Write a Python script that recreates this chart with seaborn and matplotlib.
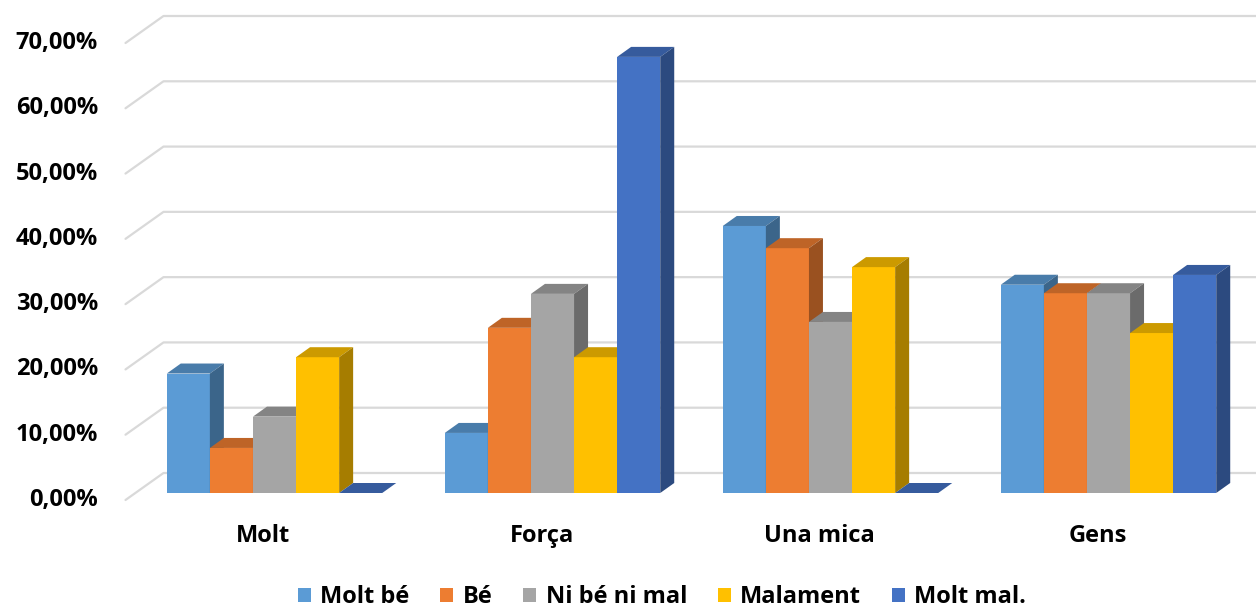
import numpy as np
import pandas as pd
import matplotlib
matplotlib.use('Agg')
import matplotlib.pyplot as plt
import seaborn as sns
from matplotlib.patches import Polygon
from matplotlib.colors import to_rgb

# Dades (percentatges)
categories = ['Molt', 'Força', 'Una mica', 'Gens']
respostes = ['Molt bé', 'Bé', 'Ni bé ni mal', 'Malament', 'Molt mal.']
molt_be = [18.3, 9.2, 40.9, 31.9]
be = [6.9, 25.3, 37.5, 30.6]
ni_be_ni_mal = [11.7, 30.5, 26.2, 30.6]
malament = [20.8, 20.8, 34.6, 24.5]
molt_mal = [0.0, 66.8, 0.0, 33.4]
yticks = [0, 10, 20, 30, 40, 50, 60, 70]

colors = ['#5B9BD5', '#ED7D31', '#A5A5A5', '#FFC000', '#4472C4']

series = [molt_be, be, ni_be_ni_mal, malament, molt_mal]
rows = []
for resp, vals in zip(respostes, series):
    for cat, v in zip(categories, vals):
        rows.append({'categoria': cat, 'resposta': resp, 'valor': v})
df = pd.DataFrame(rows)

sns.set_theme(style='white')
plt.rcParams['font.family'] = ['Open Sans', 'DejaVu Sans']
plt.rcParams['text.color'] = 'black'

fig = plt.figure(figsize=(12.56, 6.08), dpi=100)
ax = fig.add_axes([135.5 / 1256, 115 / 608, 1112 / 1256, 457 / 608])

sns.barplot(data=df, x='categoria', y='valor', hue='resposta', order=categories,
            hue_order=respostes, palette=colors, width=0.775, saturation=1,
            errorbar=None, linewidth=0, ax=ax)
ax.set_xlim(-0.5, 3.5)
ax.set_ylim(0, 70)

# pixels per unitat de dades
ppx = ax.bbox.width / 4
ppy = ax.bbox.height / 70

# efecte 3D de les barres
ddx, ddy = 14 / ppx, 10 / ppy
bars = sorted(list(ax.patches), key=lambda p: p.get_x())
for rank, p in enumerate(bars):
    x, w, h = p.get_x(), p.get_width(), p.get_height()
    c = np.array(to_rgb(p.get_facecolor()))
    p.set_zorder(3 + rank * 3)
    top = Polygon([(x, h), (x + w, h), (x + w + ddx, h + ddy), (x + ddx, h + ddy)],
                  closed=True, fc=c * 0.8, ec='none', zorder=4 + rank * 3)
    side = Polygon([(x + w, 0), (x + w + ddx, ddy), (x + w + ddx, h + ddy), (x + w, h)],
                   closed=True, fc=c * 0.65, ec='none', zorder=5 + rank * 3)
    ax.add_patch(top)
    ax.add_patch(side)

# graella al pla del fons
dxb, dyb = 28 / ppx, 20 / ppy
dxf, dyf = -10 / ppx, -7 / ppy
x_right = 3.5 + 8.5 / ppx
for v in yticks:
    ax.plot([-0.5 + dxf, -0.5 + dxb, x_right], [v + dyf, v + dyb, v + dyb],
            color='#d9d9d9', lw=1.6, clip_on=False, zorder=1)
    ax.text(-0.5 + (98 - 135.5) / ppx, v + dyf, f'{v:.2f}'.replace('.', ',') + '%',
            ha='right', va='center', fontsize=17, fontweight='bold', color='black',
            clip_on=False)

ax.set_yticks([])
ax.set_xticks([i - 11 / ppx for i in range(len(categories))])
ax.set_xticklabels(categories, fontsize=17, fontweight='bold', color='black')
ax.tick_params(axis='x', length=0, pad=22)
ax.set_xlabel('')
ax.set_ylabel('')
for s in ax.spines.values():
    s.set_visible(False)

handles, labels = ax.get_legend_handles_labels()
ax.get_legend().remove()
fig.legend(handles, labels, loc='center', bbox_to_anchor=(0.527, 0.018), ncol=5,
           frameon=False, prop={'weight': 'bold', 'size': 17}, labelcolor='black',
           handlelength=0.55, handleheight=0.55, handletextpad=0.4, columnspacing=1.3)

fig.savefig('out.png', dpi=100)
